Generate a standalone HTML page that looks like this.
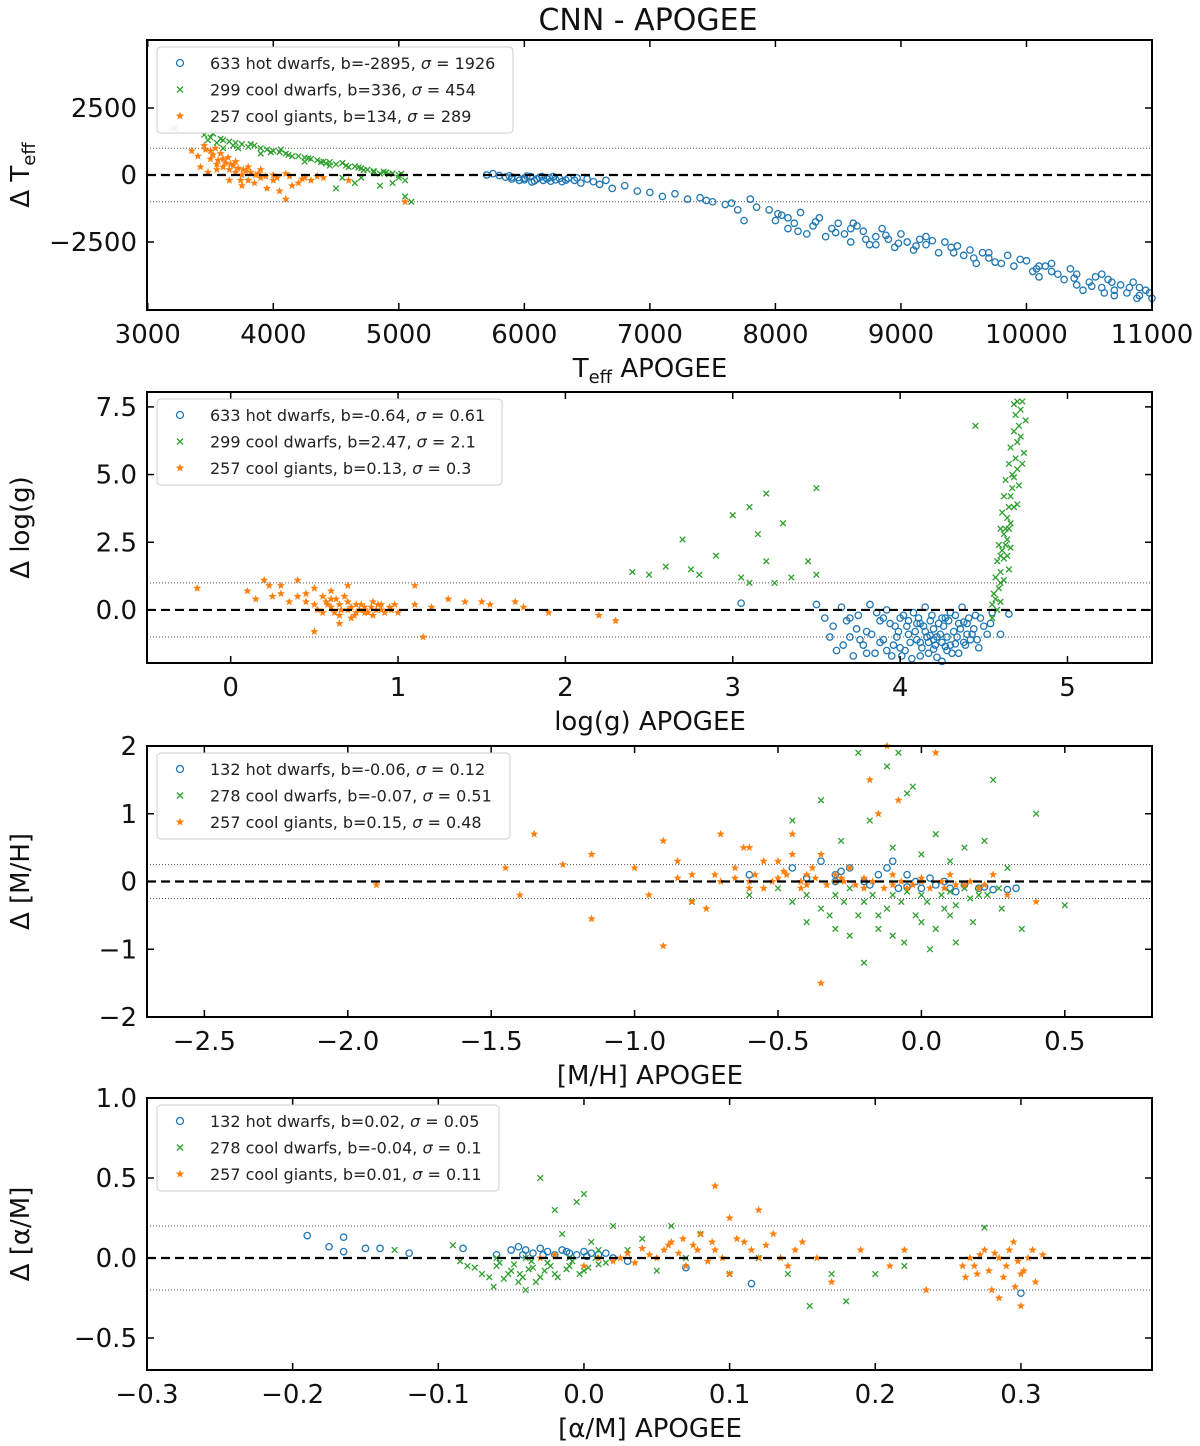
<!DOCTYPE html>
<html><head><meta charset="utf-8">
<style>
html,body{margin:0;padding:0;background:#fff;}
svg{display:block;font-family:"DejaVu Sans","Liberation Sans",sans-serif;}
</style></head>
<body>
<svg id="fig" width="1200" height="1446" viewBox="0 0 1200 1446" xmlns="http://www.w3.org/2000/svg">
<text x="648" y="30" font-size="30" text-anchor="middle" fill="#111">CNN - APOGEE</text>
</svg>
<script>
// ---- Panel 1: Teff ----
const p1Hot = [[5700,0],[5750,50],[5800,-20],[5850,-80],[5900,-150],[5950,-100],[6000,-120],[6050,-60],[6100,-150],[6150,-200],[6200,-100],[6250,-180],[6300,-250],[6350,-120],[6400,-200],[6450,-300],[6500,-150],[6550,-250],[6600,-350],[6650,-200],[5900,-80],[6000,-180],[6080,-220],[6120,-90],[6180,-140],[6230,-60],[6280,-130],[6020,-40],[5960,-200],[6060,-260],[6140,-60],[6210,-230],[6330,-190],[6420,-110],[5880,-30],[6700,-500],[6800,-400],[6900,-600],[7000,-650],[7100,-800],[7200,-700],[7300,-900],[7400,-850],[7500,-1000],[7600,-1100],[7700,-1300],[7750,-1700],[7800,-900],[7950,-1300],[8000,-1700],[8050,-1500],[8100,-2000],[8150,-1800],[8200,-1400],[8250,-2200],[8300,-1900],[8350,-1600],[8400,-2300],[8450,-2000],[8500,-1800],[8550,-2200],[8600,-2500],[8650,-1900],[8700,-2100],[8750,-2600],[8800,-2300],[8850,-2000],[8900,-2400],[8950,-2700],[9000,-2200],[9050,-2500],[9100,-2800],[9150,-2400],[9200,-2600],[9300,-2900],[9350,-2500],[9400,-2700],[9500,-3000],[9550,-2800],[9600,-3300],[9650,-2900],[9700,-3100],[9800,-3300],[9850,-3000],[9900,-3400],[10000,-3200],[10050,-3600],[10100,-3800],[10150,-3400],[10200,-3600],[10300,-3900],[10350,-3500],[10400,-3700],[10500,-4000],[10550,-3800],[10600,-4200],[10650,-3900],[10700,-4300],[10750,-4100],[10800,-4400],[10850,-4000],[10900,-4500],[10950,-4300],[11000,-4600],[10700,-4500],[10400,-4100],[10200,-3300],[8100,-1600],[8600,-2000],[9200,-2300],[9700,-2900],[10100,-3400],[10600,-3700],[10900,-4200],[8800,-2600],[9450,-2650],[10450,-4300],[8020,-1450],[8180,-2100],[8320,-1750],[8480,-2150],[8620,-1800],[8720,-2400],[8880,-2250],[8980,-2550],[9120,-2650],[9250,-2450],[9420,-2900],[9580,-3100],[9750,-3250],[9950,-3150],[10080,-3500],[10250,-3700],[10380,-3850],[10520,-4150],[10680,-4000],[10820,-4200],[10980,-4400],[10880,-4600],[10620,-4400],[7850,-1200],[7650,-1050],[7450,-950]];
const p1Dwarf = [[3210,1750],[3450,1500],[3500,1400],[3550,1200],[3600,1300],[3650,1250],[3700,1200],[3750,1150],[3800,1050],[3850,1100],[3900,1000],[3950,950],[4000,900],[4050,850],[4100,800],[4150,700],[4200,700],[4250,650],[4300,600],[4350,550],[4400,500],[4450,480],[4500,400],[4550,450],[4600,300],[4650,320],[4700,250],[4750,200],[4800,150],[4850,50],[4900,100],[4950,60],[5000,0],[5050,-200],[4950,-300],[4850,-400],[4700,-100],[4550,-100],[5100,-1000],[5050,-800],[4500,-500],[4650,-300],[3600,1000],[3900,800],[4250,500],[4450,350],[4800,100],[5000,-100],[3480,1300],[3580,1350],[3680,1100],[3820,1150],[3980,850],[4120,750],[4280,620],[4420,430],[4580,350],[4720,180],[4880,120],[3520,1550],[3720,1000],[4060,950],[4380,480],[4680,280],[4920,30],[5020,50]];
const p1Giant = [[3350,900],[3400,700],[3450,1100],[3500,600],[3550,400],[3600,300],[3650,200],[3700,100],[3750,0],[3800,-200],[3850,-300],[3900,-100],[3950,-500],[4000,-200],[4050,-600],[4100,-900],[4150,-400],[4200,-300],[4250,-100],[3500,900],[3600,600],[3700,500],[3800,300],[3900,200],[3650,-200],[3750,-400],[3550,200],[4000,0],[4100,50],[4300,-200],[4600,-200],[3420,300],[3480,100],[3580,800],[3680,350],[3780,150],[3880,50],[4400,-100],[5050,-1000],[3520,750],[3560,550],[3620,450],[3660,400],[3720,250],[3760,200],[3820,100],[3860,0],[3940,-50],[4030,-100],[4130,-50],[4230,-150],[4350,-50],[3460,950],[3540,1000],[3640,650],[3740,-200]];
// ---- Panel 2: log(g) ----
const p2Hot = [[3.05,0.25],[3.5,0.2],[3.55,-0.3],[3.6,-0.6],[3.62,-1.5],[3.65,0.1],[3.7,-1.0],[3.72,-1.7],[3.75,-0.2],[3.78,-1.3],[3.8,-0.8],[3.82,0.2],[3.85,-1.6],[3.88,-0.4],[3.9,-1.1],[3.92,0.0],[3.95,-1.7],[3.97,-0.6],[4.0,-1.4],[4.02,-0.2],[4.05,-0.9],[4.07,-1.8],[4.1,-0.5],[4.12,-1.2],[4.15,0.1],[4.17,-1.6],[4.2,-0.7],[4.22,-1.0],[4.25,-1.9],[4.27,-0.3],[4.3,-1.3],[4.32,-0.8],[4.35,-1.6],[4.37,0.1],[4.4,-0.5],[4.42,-1.1],[4.45,-0.2],[4.47,-1.4],[4.5,-0.6],[4.55,-0.1],[4.6,-0.9],[4.65,-0.15],[3.68,-0.4],[3.9,-0.3],[4.08,-0.1],[4.18,-0.4],[4.28,-1.5],[4.38,-1.2],[4.12,-1.7],[3.98,-1.0],[4.23,-0.5],[4.33,-0.2],[4.43,-0.9],[4.03,-1.5],[3.83,-0.9],[4.15,-0.8],[4.25,-1.2],[4.35,-0.5],[4.1,-1.1],[4.2,-1.45],
 [3.58,-1.0],[3.66,-1.3],[3.74,-0.7],[3.86,-0.1],[3.94,-0.5],[4.0,-0.3],[4.04,-0.6],[4.06,-1.2],[4.09,-0.8],[4.11,-0.3],[4.13,-1.4],[4.14,-0.6],[4.16,-1.0],[4.19,-0.2],[4.21,-1.3],[4.24,-0.9],[4.26,-0.6],[4.28,-1.0],[4.29,-0.4],[4.31,-1.6],[4.34,-1.0],[4.36,-0.7],[4.39,-1.3],[4.41,-0.3],[4.44,-0.7],[4.46,-1.1],[4.48,-0.3],[4.52,-0.9],[4.54,-0.5],[3.96,-1.3],[3.99,-0.8],[4.01,-1.7],[4.17,-1.2],[4.22,-1.75],[4.3,-0.1],[4.4,-0.9],[4.18,-0.95],[4.27,-1.35],[4.05,-0.4],[4.12,-0.5],[4.2,-1.1],[4.25,-0.3],[4.33,-1.25],[4.38,-0.45],[3.92,-1.5],[3.88,-1.2],[3.8,-1.6],[3.7,-0.3],[3.76,-1.1]];
const p2Dwarf = [[2.4,1.4],[2.5,1.3],[2.6,1.6],[2.7,2.6],[2.75,1.5],[2.8,1.3],[2.9,2.0],[3.0,3.5],[3.05,1.2],[3.1,3.8],[3.1,1.0],[3.15,2.8],[3.2,4.3],[3.2,1.8],[3.25,1.0],[3.3,3.2],[3.35,1.2],[3.45,1.8],[3.5,4.5],[3.5,1.3],[4.45,6.8],[4.55,0.2],[4.56,0.6],[4.57,1.2],[4.58,1.8],[4.59,2.4],[4.6,3.0],[4.6,2.0],[4.61,3.6],[4.62,4.2],[4.62,2.8],[4.63,4.8],[4.64,3.4],[4.65,5.4],[4.65,1.5],[4.66,6.0],[4.67,4.5],[4.68,6.6],[4.68,3.8],[4.69,7.2],[4.7,7.7],[4.7,5.2],[4.72,6.4],[4.72,7.4],[4.74,5.8],[4.75,7.0],[4.58,0.0],[4.63,2.4],[4.66,3.2],[4.6,1.0],[4.55,-0.3],
 [4.57,0.4],[4.59,0.8],[4.6,1.4],[4.61,2.2],[4.62,1.9],[4.63,3.0],[4.64,2.6],[4.65,3.8],[4.66,4.2],[4.67,5.0],[4.68,4.9],[4.69,5.6],[4.7,6.2],[4.71,6.8],[4.71,4.6],[4.73,5.4],[4.73,7.7],[4.68,7.6],[4.6,0.3],[4.62,1.1],[4.64,2.0],[4.65,3.0],[4.66,2.3],[4.7,3.9]];
const p2Giant = [[-0.2,0.8],[0.1,0.7],[0.15,0.4],[0.2,1.1],[0.25,0.5],[0.3,0.9],[0.35,0.3],[0.4,1.1],[0.45,0.6],[0.5,0.2],[0.5,0.8],[0.55,-0.1],[0.55,0.5],[0.6,0.1],[0.6,0.4],[0.65,-0.2],[0.65,0.2],[0.7,0.0],[0.7,0.3],[0.75,-0.1],[0.75,0.2],[0.8,0.0],[0.8,0.1],[0.85,-0.2],[0.85,0.3],[0.9,0.0],[0.95,0.1],[1.0,-0.1],[0.7,0.9],[0.6,0.7],[0.5,-0.8],[0.65,-0.5],[1.1,0.2],[1.1,0.9],[1.15,-1.0],[1.2,0.1],[1.3,0.4],[1.4,0.3],[1.5,0.3],[1.55,0.2],[1.7,0.3],[1.75,0.1],[1.9,-0.1],[2.2,-0.2],[2.3,-0.4],[0.8,-0.1],[0.9,0.2],[0.72,-0.3],
 [0.45,0.3],[0.52,0.0],[0.58,0.2],[0.62,-0.1],[0.66,0.0],[0.68,0.5],[0.72,0.1],[0.74,-0.2],[0.78,0.2],[0.82,-0.1],[0.84,0.1],[0.88,0.2],[0.92,-0.1],[0.96,0.0],[0.57,0.3],[0.63,0.4],[0.77,0.0],[0.87,0.0],[0.98,0.2],[0.4,0.5],[0.3,0.6],[0.23,0.9]];
// ---- Panel 3: [M/H] ----
const p3Hot = [[-0.6,0.1],[-0.45,0.2],[-0.35,0.3],[-0.3,0.1],[-0.25,0.2],[-0.2,0.0],[-0.15,0.1],[-0.12,0.2],[-0.1,0.3],[-0.08,-0.1],[-0.05,0.1],[-0.02,0.0],[0.0,-0.1],[0.03,0.05],[0.05,-0.05],[0.08,0.0],[0.1,-0.1],[0.15,-0.05],[0.2,-0.1],[0.25,-0.12],[0.3,-0.12],[0.33,-0.1],[-0.3,0.0],[-0.4,0.05],[-0.18,-0.05],[-0.05,-0.08],[0.12,-0.15],[0.22,-0.08],[-0.28,0.15]];
const p3Dwarf = [[-0.8,-0.3],[-0.6,-0.2],[-0.5,-0.1],[-0.45,0.9],[-0.4,-0.6],[-0.35,1.2],[-0.3,-0.7],[-0.28,0.6],[-0.25,-0.8],[-0.22,1.9],[-0.2,-1.2],[-0.18,0.9],[-0.15,-0.5],[-0.12,1.7],[-0.1,0.5],[-0.08,1.9],[-0.06,-0.9],[-0.05,1.3],[-0.03,1.4],[0.0,-0.6],[0.0,0.4],[0.03,-1.0],[0.05,0.7],[0.08,-0.4],[0.1,0.3],[0.12,-0.9],[0.15,0.5],[0.18,-0.6],[0.2,-0.2],[0.22,0.6],[0.25,1.5],[0.28,-0.4],[0.3,0.2],[0.35,-0.7],[0.4,1.0],[0.5,-0.35],[-0.3,-0.2],[-0.2,-0.3],[-0.1,-0.2],[0.0,-0.2],[0.1,-0.15],[0.2,-0.1],[-0.35,-0.4],[-0.15,-0.7],[0.05,-0.7],
 [-0.4,-0.2],[-0.32,-0.5],[-0.27,-0.3],[-0.22,-0.5],[-0.17,-0.2],[-0.12,-0.4],[-0.07,-0.3],[-0.02,-0.5],[0.02,-0.3],[0.07,-0.2],[0.12,-0.35],[0.17,-0.25],[0.23,-0.2],[0.27,-0.1],[-0.25,-0.1],[-0.05,-0.15],[0.15,-0.1],[-0.45,-0.3],[-0.1,-0.8],[0.1,-0.5]];
const p3Giant = [[-1.9,-0.05],[-1.45,0.2],[-1.4,-0.2],[-1.35,0.7],[-1.25,0.25],[-1.15,-0.55],[-1.15,0.4],[-1.0,0.2],[-0.95,-0.2],[-0.9,0.6],[-0.9,-0.95],[-0.85,0.3],[-0.8,0.1],[-0.75,-0.4],[-0.7,0.7],[-0.65,0.2],[-0.6,0.5],[-0.55,-0.1],[-0.5,0.3],[-0.45,0.7],[-0.4,0.1],[-0.35,-1.5],[-0.35,0.4],[-0.3,0.0],[-0.25,0.2],[-0.2,-0.1],[-0.18,1.5],[-0.15,1.0],[-0.12,2.0],[-0.1,0.1],[-0.08,1.2],[-0.05,-0.1],[0.0,0.0],[0.05,1.9],[0.08,-0.1],[0.1,0.1],[0.15,-0.05],[0.2,-0.1],[0.25,0.1],[0.3,-0.2],[0.4,-0.3],[-0.6,0.0],[-0.5,0.05],[-0.4,-0.05],[-0.3,0.1],[-0.2,0.05],[-0.1,-0.05],[0.0,0.05],[-0.7,0.0],[-0.8,-0.3],
 [-0.65,0.05],[-0.58,0.1],[-0.52,0.0],[-0.47,0.1],[-0.42,0.0],[-0.37,0.05],[-0.33,-0.05],[-0.27,0.0],[-0.23,-0.05],[-0.17,0.0],[-0.13,-0.1],[-0.07,0.0],[-0.03,-0.05],[0.03,-0.1],[0.07,0.0],[0.12,-0.05],[0.17,0.0],[0.22,-0.05],[-0.55,0.3],[-0.45,0.4],[-0.62,0.5],[-0.48,0.15],[-0.38,0.2],[-0.28,0.05],[-0.72,0.1],[-0.85,0.05],[-0.6,-0.1],[-0.42,-0.1]];
// ---- Panel 4: [alpha/M] ----
const p4Hot = [[-0.19,0.14],[-0.175,0.07],[-0.165,0.13],[-0.165,0.04],[-0.15,0.06],[-0.14,0.06],[-0.12,0.03],[-0.083,0.06],[-0.06,0.02],[-0.05,0.05],[-0.045,0.07],[-0.04,0.05],[-0.035,0.03],[-0.03,0.06],[-0.025,0.04],[-0.02,0.02],[-0.015,0.05],[-0.01,0.03],[-0.005,0.02],[0.0,0.04],[0.005,0.03],[0.01,0.02],[0.02,0.0],[0.03,-0.02],[0.07,-0.06],[0.115,-0.16],[0.3,-0.22],[-0.042,0.02],[-0.028,0.02],[-0.012,0.04],[0.002,0.01],[0.015,0.03]];
const p4Dwarf = [[-0.13,0.05],[-0.09,0.08],[-0.085,-0.02],[-0.08,-0.05],[-0.07,-0.1],[-0.06,-0.05],[-0.055,-0.13],[-0.05,-0.08],[-0.045,-0.15],[-0.04,-0.2],[-0.035,-0.06],[-0.03,-0.12],[-0.03,0.5],[-0.025,-0.03],[-0.02,-0.1],[-0.02,0.3],[-0.015,0.15],[-0.01,-0.05],[-0.005,0.35],[0.0,-0.08],[0.0,0.4],[0.005,0.1],[0.01,-0.04],[0.02,0.2],[0.03,0.05],[0.04,0.12],[0.05,-0.08],[0.06,0.2],[0.07,0.0],[0.08,0.15],[0.1,-0.1],[0.12,0.0],[0.14,-0.1],[0.155,-0.3],[0.17,-0.1],[0.18,-0.27],[0.2,-0.1],[0.22,-0.05],[0.275,0.19],[-0.06,0.0],[-0.04,0.0],[-0.01,0.0],[0.01,0.05],
 [-0.075,-0.06],[-0.065,-0.12],[-0.058,-0.03],[-0.052,-0.1],[-0.048,-0.04],[-0.042,-0.12],[-0.038,-0.07],[-0.033,-0.15],[-0.027,-0.08],[-0.023,-0.05],[-0.018,-0.12],[-0.012,-0.07],[-0.008,-0.02],[-0.003,-0.1],[0.003,-0.06],[0.008,0.0],[0.015,-0.03],[-0.062,-0.18],[-0.044,-0.1],[-0.036,-0.02]];
const p4Giant = [[-0.03,0.0],[-0.02,0.02],[0.0,-0.05],[0.01,0.0],[0.02,-0.02],[0.03,0.03],[0.04,0.06],[0.05,0.0],[0.06,0.1],[0.07,-0.05],[0.08,0.15],[0.09,0.45],[0.09,0.05],[0.1,-0.1],[0.1,0.25],[0.11,0.1],[0.12,0.0],[0.12,0.3],[0.13,0.15],[0.14,-0.05],[0.15,0.1],[0.16,0.0],[0.17,-0.15],[0.19,0.05],[0.21,-0.05],[0.22,0.05],[0.235,-0.2],[0.26,-0.05],[0.265,0.0],[0.27,-0.1],[0.275,0.05],[0.28,-0.2],[0.285,0.0],[0.29,-0.05],[0.295,0.1],[0.3,-0.1],[0.3,-0.3],[0.305,0.0],[0.31,-0.15],[0.315,0.02],[0.055,0.05],[0.065,0.03],[0.075,0.08],[0.085,-0.02],
 [0.025,0.0],[0.035,-0.03],[0.045,0.02],[0.058,0.08],[0.068,0.12],[0.078,0.05],[0.088,0.1],[0.095,0.0],[0.105,0.12],[0.115,0.05],[0.125,0.08],[0.135,0.0],[0.145,0.05],[0.268,-0.05],[0.278,-0.08],[0.282,0.03],[0.288,-0.12],[0.292,0.05],[0.298,-0.02],[0.302,-0.08],[0.308,0.05],[0.272,0.02],[0.262,-0.12],[0.285,-0.25],[0.296,-0.18]];

const panels = [
 {name:'teff', top:40, bottom:310, xmin:2994, xmax:11000, ymin:-5037, ymax:5037,
  xticks:[3000,4000,5000,6000,7000,8000,9000,10000,11000], xfmt:v=>String(v),
  yticks:[-2500,0,2500], yfmt:v=>v<0?'\u2212'+(-v):String(v), band:1000,
  xlabel:'T<tspan font-size="18" dy="6">eff</tspan><tspan dy="-6"> APOGEE</tspan>', ylabel:'\u0394 T<tspan font-size="18" dy="6">eff</tspan>',
  sets:[p1Hot,p1Dwarf,p1Giant],
  leg:['633 hot dwarfs, b=-2895, ','299 cool dwarfs, b=336, ','257 cool giants, b=134, '], legv:['1926','454','289'], legw:356},
 {name:'logg', top:392, bottom:663, xmin:-0.5, xmax:5.505, ymin:-1.96, ymax:8.05,
  xticks:[0,1,2,3,4,5], xfmt:v=>String(v),
  yticks:[0,2.5,5,7.5], yfmt:v=>v.toFixed(1), band:1,
  xlabel:'log(g) APOGEE', ylabel:'\u0394 log(g)',
  sets:[p2Hot,p2Dwarf,p2Giant],
  leg:['633 hot dwarfs, b=-0.64, ','299 cool dwarfs, b=2.47, ','257 cool giants, b=0.13, '], legv:['0.61','2.1','0.3'], legw:345},
 {name:'mh', top:746, bottom:1017, xmin:-2.7, xmax:0.804, ymin:-2, ymax:2,
  xticks:[-2.5,-2,-1.5,-1,-0.5,0,0.5], xfmt:v=>(v<0?'\u2212':'')+Math.abs(v).toFixed(1),
  yticks:[-2,-1,0,1,2], yfmt:v=>(v<0?'\u2212':'')+Math.abs(v), band:0.25,
  xlabel:'[M/H] APOGEE', ylabel:'\u0394 [M/H]',
  sets:[p3Hot,p3Dwarf,p3Giant],
  leg:['132 hot dwarfs, b=-0.06, ','278 cool dwarfs, b=-0.07, ','257 cool giants, b=0.15, '], legv:['0.12','0.51','0.48'], legw:353},
 {name:'alpha', top:1098, bottom:1370, xmin:-0.3, xmax:0.39, ymin:-0.7, ymax:1.0,
  xticks:[-0.3,-0.2,-0.1,0,0.1,0.2,0.3], xfmt:v=>(v<-1e-9?'\u2212':'')+Math.abs(v).toFixed(1),
  yticks:[-0.5,0,0.5,1.0], yfmt:v=>(v<0?'\u2212':'')+Math.abs(v).toFixed(1), band:0.2,
  xlabel:'[\u03b1/M] APOGEE', ylabel:'\u0394 [\u03b1/M]',
  sets:[p4Hot,p4Dwarf,p4Giant],
  leg:['132 hot dwarfs, b=0.02, ','278 cool dwarfs, b=-0.04, ','257 cool giants, b=0.01, '], legv:['0.05','0.1','0.11'], legw:342}
];
const L=147, R=1152;
const colors=['#1f77b4','#2ca02c','#ff7f0e'];
const NS='http://www.w3.org/2000/svg';
const svg=document.getElementById('fig');
function mk(tag,attrs,parent){const e=document.createElementNS(NS,tag);for(const k in attrs)e.setAttribute(k,attrs[k]);(parent||svg).appendChild(e);return e;}
function starPts(cx,cy,r){let s=[];for(let i=0;i<10;i++){const a=-Math.PI/2+i*Math.PI/5;const rr=i%2?r*0.42:r;s.push((cx+rr*Math.cos(a)).toFixed(1)+','+(cy+rr*Math.sin(a)).toFixed(1));}return s.join(' ');}
function marker(g,kind,x,y,big){
  const c=colors[kind];let e;
  if(kind===0){e=mk('circle',{cx:x,cy:y,r:big?3.5:3.2,fill:'none',stroke:c,'stroke-width':1.3},g);}
  else if(kind===1){const s=big?3:2.8;e=mk('path',{d:`M${x-s},${y-s}L${x+s},${y+s}M${x-s},${y+s}L${x+s},${y-s}`,stroke:c,'stroke-width':1.3},g);}
  else {e=mk('polygon',{points:starPts(x,y,big?4.5:4.3),fill:c},g);}
  return e;
}
const seriesNames=['hot-dwarfs','cool-dwarfs','cool-giants'];
panels.forEach(p=>{
  const g=mk('g',{});
  
  
  const sx=v=>L+(v-p.xmin)/(p.xmax-p.xmin)*(R-L);
  const sy=v=>p.bottom-(v-p.ymin)/(p.ymax-p.ymin)*(p.bottom-p.top);
  [p.band,-p.band].forEach(b=>{const ln=mk('line',{x1:L,x2:R,y1:sy(b),y2:sy(b),stroke:'#555','stroke-width':1,'stroke-dasharray':'1,2'},g);
    
    });
  p.sets.forEach((set,k)=>{
    const sg=mk('g',{},g);
    
    
    set.forEach(d=>{const m=marker(sg,k,sx(d[0]),sy(d[1]),false);
      
      });
  });
  const zl=mk('line',{x1:L,x2:R,y1:sy(0),y2:sy(0),stroke:'#000','stroke-width':2.2,'stroke-dasharray':'9,5'},g);
  
  
  const fr=mk('rect',{x:L,y:p.top,width:R-L,height:p.bottom-p.top,fill:'none',stroke:'#000','stroke-width':2},g);
  
  
  p.xticks.forEach(v=>{const x=sx(v);
    mk('line',{x1:x,x2:x,y1:p.bottom,y2:p.bottom-7,stroke:'#000','stroke-width':1.5},g);
    mk('line',{x1:x,x2:x,y1:p.top,y2:p.top+7,stroke:'#000','stroke-width':1.5},g);
    const t=mk('text',{x:x,y:p.bottom+33,'font-size':26,'text-anchor':'middle',fill:'#111'},g);t.textContent=p.xfmt(v);
    
    });
  p.yticks.forEach(v=>{const y=sy(v);
    mk('line',{x1:L,x2:L+7,y1:y,y2:y,stroke:'#000','stroke-width':1.5},g);
    mk('line',{x1:R,x2:R-7,y1:y,y2:y,stroke:'#000','stroke-width':1.5},g);
    const t=mk('text',{x:L-10,y:y+9,'font-size':26,'text-anchor':'end',fill:'#111'},g);t.textContent=p.yfmt(v);
    
    });
  const xl=mk('text',{x:650,y:p.bottom+67,'font-size':26,'text-anchor':'middle',fill:'#111'},g);xl.innerHTML=p.xlabel;
  
  
  const cy=(p.top+p.bottom)/2;
  const yl=mk('text',{x:0,y:0,'font-size':26,'text-anchor':'middle',fill:'#111',transform:`translate(29,${cy}) rotate(-90)`},g);yl.innerHTML=p.ylabel;
  
  
  const lg=mk('g',{},g);
  
  
  mk('rect',{x:157,y:p.top+7,width:p.legw,height:86,rx:4,fill:'#fff','fill-opacity':0.85,stroke:'#ccc','stroke-width':1},lg);
  p.leg.forEach((s,k)=>{const y=p.top+23+k*26.5;
    const m=marker(lg,k,180,y,true);
    
    
    const t=mk('text',{x:210,y:y+6,'font-size':16,fill:'#222'},lg);
    t.innerHTML=s+'<tspan font-style="italic">\u03c3</tspan> = '+p.legv[k];
    
    });
});
</script>
</body></html>
